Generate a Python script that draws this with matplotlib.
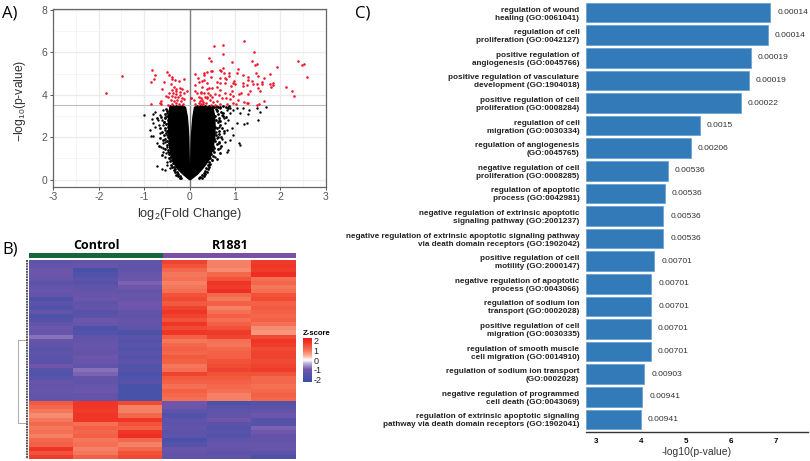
import numpy as np
import matplotlib
matplotlib.use("Agg")
import matplotlib.pyplot as plt
from matplotlib.colors import LinearSegmentedColormap

plt.rcParams["font.family"] = ["Liberation Sans", "DejaVu Sans"]
plt.rcParams["mathtext.default"] = "regular"
plt.rcParams["axes.unicode_minus"] = False

W, H = 810, 461

# === volcano data ===
red_x = [.55,.73,1.21,.73,1.42,.44,.47,.94,1.37,1.48,1.45,1.92,2.40,2.52,2.49,2.60,2.13,2.27,2.31,
         .73,.70,.67,.50,.47,.38,.31,1.06,.75,.88,1.04,1.19,1.47,1.52,1.77,1.30,1.64,.27,.47,.67,.78,.81,.88,.99,1.0,.95,.91,
         1.19,1.17,1.28,1.27,1.38,1.39,1.49,1.59,1.60,1.50,1.77,1.85,1.85,1.79,1.55,1.64,1.53,1.48,1.33,1.29,1.13,1.09,.94,
         1.08,1.2,1.29,.97,.89,.79,.67,.61,.67,.78,.6,.27,.38,.49,.32,.41,.49,.56,.65,.71,.80,.89,.97,.25,.34,.26,.39,.45,.29,
         .36,.52,.61,.67,.82,1.03,.25,.47,.56,1.27,
         .12,.18,.13,.22,.12,.16,.04,.1,.2,.27,.26,.31,.32,.22,.12,.23,.29,.38,.42,.45,.38,
         -1.84,-1.49,-.82,-.77,-.79,-.84,-.56,-.49,-.45,-.39,-.39,-.32,-.23,-.12,-.41,-.61,-.35,-.30,-.22,-.17,-.06,-.30,-.22,
         -.13,-.39,-.45,-.36,-.30,-.21,-.52,-.48,-.39,-.32,-.25,-.17,-.41,-.34,-.27,-.19,-.12,-.63,-.66,-.62,-.86,-.39,-.30,
         -.23,-.15,-.47,.03]
red_y = [6.32,6.34,6.54,5.93,6.02,5.76,5.60,5.53,5.62,5.47,5.42,5.32,5.62,5.46,5.40,4.84,4.39,4.19,3.93,
         5.27,5.14,5.18,5.14,5.13,5.06,5.05,5.22,5.02,5.05,5.02,4.94,5.05,4.89,5.0,4.84,4.78,4.66,4.84,4.81,4.81,4.73,4.91,4.67,4.5,4.56,4.44,
         4.54,4.44,4.7,4.47,4.67,4.5,4.51,4.62,4.5,4.34,4.5,4.58,4.47,4.39,4.17,3.71,3.57,3.52,4.2,4.04,4.07,4.03,4.18,
         3.76,3.68,3.6,3.93,4.03,4.07,4.23,4.35,4.54,4.57,4.6,4.39,4.28,4.31,4.07,4.07,3.92,4.03,4.0,3.84,3.84,3.81,3.63,4.15,3.92,3.84,3.84,3.76,3.68,
         3.63,3.68,3.73,3.57,3.57,3.57,3.57,3.52,3.52,3.62,
         4.98,4.78,4.46,4.62,4.2,4.07,3.84,3.76,3.88,3.76,4.07,4.94,4.7,3.6,3.57,3.73,3.57,4.54,4.31,4.0,3.88,
         4.07,4.91,5.17,4.92,4.73,4.61,4.6,5.08,4.94,4.84,4.75,4.72,4.67,4.77,4.53,4.28,4.35,4.29,4.31,4.29,4.17,4.18,4.15,
         4.07,4.23,4.07,4.07,4.04,4.0,3.93,3.88,3.95,3.88,3.92,3.87,3.76,3.73,3.76,3.73,3.79,3.73,3.63,3.57,3.55,3.57,3.6,
         3.57,3.57,3.52,3.84]
black_x = [-1.0,-.8,-.76,-.83,-.8,-.76,-.87,-.86,-.81,-.71,-.62,-.58,-.54,-.5,-.71,-.6,-.55,-.44,-.65,-.61,-.58,-.54,-.5,-.54,
           -.5,-.47,-.44,-.69,-.67,-.64,-.58,-.58,-.5,-.54,-.48,-.59,-.51,-.49,
           1.5,1.26,1.21,1.3,1.68,1.55,1.48,1.32,1.11,1.04,1.1,1.11,.85,.82,.78,.89,.96,.93,.82,.75,.71,.67,.56,.64,.66,.78,.85,
           .89,.96,.82,.71,.64,.75,.61,.67,.58,.61,.52,.49,.42,.46,.89,1.04,1.19]
black_y = [3.07,3.12,3.2,2.85,2.66,2.5,2.34,2.06,2.06,1.75,1.56,1.32,1.09,.85,.66,.49,.46,.54,3.05,2.81,2.58,2.34,2.1,1.79,
           1.56,1.32,1.0,2.81,2.58,2.19,1.71,3.29,3.13,2.97,2.66,1.48,1.24,.69,
           2.81,2.66,2.61,3.1,3.41,3.21,3.37,3.3,3.16,2.66,1.75,1.64,1.4,1.32,1.79,1.87,2.1,2.42,2.34,2.19,1.9,1.48,1.06,1.71,2.5,2.66,2.81,
           3.13,3.29,3.29,3.05,2.81,2.9,3.29,3.37,2.27,1.97,1.4,.93,.69,1.24,3.37,3.37,3.37]
# ragged fringe of the cloud, left lobe then right lobe then the top edge
fringe_x = [-.52,-.49,-.55,-.5,-.53,-.48,-.56,-.51,-.47,-.54,-.5,-.52,-.57,-.48,-.53,-.49,-.46,-.5,-.44,-.47,-.43,-.46,-.41,-.45,-.39,-.42,-.37,-.4,-.34,-.38,-.31,-.35,-.28,-.32,-.25,-.29,-.22,-.26,-.18,-.22,
            -.62,-.56,-.66,-.6,-.72,-.64,-.59,-.68,-.53,-.6,
            .58,.6,.62,.57,.65,.59,.63,.68,.56,.61,.66,.54,.59,.63,.53,.57,.6,.52,.55,.49,.53,.47,.51,.45,.49,.43,.46,.4,.44,.37,.41,.34,.38,.31,.35,.27,.31,.24,.27,.2,
            .7,.74,.68,.72,.77,.66,.7,.8,.65,.69,.62,.67,.73,.84,.6,
            -.44,-.4,-.37,-.33,-.3,-.26,-.23,-.19,-.16,-.13,.13,.16,.2,.23,.27,.31,.34,.38,.42,.46,.5,.54,.58,.63,.68,.74,.8,.87]
fringe_y = [3.32,3.22,3.12,3.02,2.9,2.8,2.72,2.62,2.5,2.42,2.32,2.2,2.1,2.02,1.9,1.82,1.72,1.62,1.52,1.42,1.32,1.22,1.12,1.02,.92,.86,.78,.7,.62,.58,.5,.44,.38,.34,.28,.24,.18,.16,.1,.08,
            2.95,2.7,2.45,2.25,2.9,1.95,1.85,1.6,1.45,1.15,
            3.32,3.22,3.1,3.0,2.92,2.82,2.72,2.6,2.5,2.42,2.32,2.2,2.12,2.02,1.9,1.82,1.7,1.6,1.5,1.42,1.3,1.22,1.1,1.02,.92,.85,.76,.7,.62,.56,.5,.43,.38,.32,.27,.22,.18,.13,.1,.06,
            3.2,3.0,2.75,2.45,2.3,2.15,2.0,2.95,1.8,1.6,1.45,1.25,3.15,3.4,.98,
            3.46,3.42,3.47,3.44,3.48,3.43,3.46,3.41,3.47,3.44,3.44,3.47,3.42,3.46,3.48,3.43,3.47,3.44,3.48,3.42,3.46,3.43,3.47,3.44,3.41,3.46,3.43,3.47]
# dense body of the cloud: outer and inner edge of each lobe per height
body_y = [0, .25, .5, .75, 1, 1.5, 2, 2.5, 3, 3.45]
body_left = [-.02, -.16, -.28, -.36, -.41, -.46, -.48, -.49, -.49, -.46]
body_left_in = [0, 0, 0, 0, -.002, -.006, -.012, -.025, -.045, -.085]
body_right = [.02, .17, .28, .37, .45, .52, .56, .57, .56, .52]
body_right_in = [0, 0, 0, 0, .002, .007, .015, .03, .05, .085]

# === heatmap data (z-score per row, top to bottom) ===
ctrl1 = [-1.4,-1.3,-1.1,-1.1,-1.2,-1.5,-1.3,-1.2,-1.3,-1.8,-1.5,-1.7,-1.3,-1.8,-1.6,-1.4,-1.1,-1.2,-.8,-1.3,-1.4,-1.5,-1.4,-1.5,-1.5,-1.0,-1.6,-1.7,-1.5,-1.2,-1.3,-1.2,-1.3,-1.4,
         1.4,1.2,1.0,.8,1.0,1.2,1.0,1.1,.9,1.2,1.3,1.9,1.5,1.8]
ctrl2 = [-1.3,-1.2,-1.9,-1.7,-1.5,-1.6,-1.4,-1.3,-1.2,-1.1,-1.4,-1.3,-1.6,-1.5,-1.1,-1.2,-1.8,-1.7,-1.4,-1.3,-1.2,-1.2,-1.3,-1.1,-1.2,-1.4,-.8,-.9,-1.3,-1.4,-1.2,-1.1,-1.3,-1.3,
         1.9,1.9,1.8,1.9,1.9,1.1,1.3,1.2,1.3,1.0,1.1,.9,1.0,1.3]
ctrl3 = [-1.3,-1.4,-1.4,-1.2,-1.1,-.9,-1.0,-1.3,-1.2,-1.2,-1.0,-1.1,-1.3,-1.4,-1.3,-1.3,-1.4,-1.8,-1.5,-1.6,-1.5,-1.7,-1.5,-1.6,-1.5,-1.7,-1.6,-1.8,-1.7,-1.6,-1.9,-1.9,-1.9,-1.9,
         1.6,.9,.9,1.2,1.9,1.5,1.3,1.9,2.0,1.2,.9,1.2,1.5,1.6]
r1 = [1.7,1.5,1.2,1.0,1.1,.9,1.0,1.1,1.5,1.6,1.4,1.7,1.9,1.7,1.5,1.9,1.6,1.9,1.3,1.0,1.2,1.3,1.2,1.4,1.3,1.0,1.1,1.7,1.4,1.3,1.1,1.3,1.2,1.1,
      -1.0,-1.1,-1.4,-1.7,-1.4,-1.5,-1.3,-1.5,-1.4,-1.9,-1.6,-1.2,-1.3,-1.4]
r2 = [.9,.9,.8,1.2,1.5,1.9,1.8,2.0,1.2,1.0,1.3,.9,1.1,1.3,1.1,1.3,1.5,1.8,1.7,1.1,1.0,1.2,1.3,1.3,1.5,1.6,1.7,1.5,1.4,1.3,1.2,1.1,.9,.9,
      -1.8,-1.5,-1.4,-1.3,-1.0,-1.5,-1.6,-1.5,-1.7,-1.4,-1.2,-1.3,-1.5,-1.4]
r3 = [1.8,1.9,1.8,2.0,1.1,1.2,1.0,1.1,1.5,1.6,1.3,1.4,1.3,1.2,1.3,1.1,.8,.7,1.6,1.9,1.8,1.6,1.7,1.7,1.6,1.7,1.8,1.5,1.2,1.2,1.1,1.2,1.3,1.2,
      -1.6,-1.5,-1.3,-1.1,-1.6,-1.6,-.9,-1.0,-1.3,-1.3,-1.2,-1.2,-1.5,-1.8]

# === enrichment bars ===
go_terms = ["regulation of wound\nhealing (GO:0061041)",
            "regulation of cell\nproliferation (GO:0042127)",
            "positive regulation of\nangiogenesis (GO:0045766)",
            "positive regulation of vasculature\ndevelopment (GO:1904018)",
            "positive regulation of cell\nproliferation (GO:0008284)",
            "regulation of cell\nmigration (GO:0030334)",
            "regulation of angiogenesis\n(GO:0045765)",
            "negative regulation of cell\nproliferation (GO:0008285)",
            "regulation of apoptotic\nprocess (GO:0042981)",
            "negative regulation of extrinsic apoptotic\nsignaling pathway (GO:2001237)",
            "negative regulation of extrinsic apoptotic signaling pathway\nvia death domain receptors (GO:1902042)",
            "positive regulation of cell\nmotility (GO:2000147)",
            "negative regulation of apoptotic\nprocess (GO:0043066)",
            "regulation of sodium ion\ntransport (GO:0002028)",
            "positive regulation of cell\nmigration (GO:0030335)",
            "regulation of smooth muscle\ncell migration (GO:0014910)",
            "regulation of sodium ion transport\n(GO:0002028)",
            "negative regulation of programmed\ncell death (GO:0043069)",
            "regulation of extrinsic apoptotic signaling\npathway via death domain receptors (GO:1902041)"]
log_p = [6.88,6.82,6.44,6.40,6.22,5.32,5.11,4.60,4.53,4.50,4.50,4.30,4.24,4.24,4.22,4.22,4.08,4.04,4.01]
p_labels = ["0.00014","0.00014","0.00019","0.00019","0.00022","0.0015","0.00206","0.00536","0.00536","0.00536",
            "0.00536","0.00701","0.00701","0.00701","0.00701","0.00701","0.00903","0.00941","0.00941"]


def px_axes(left, top, right, bottom):
    return fig.add_axes([left / W, 1 - bottom / H, (right - left) / W, (bottom - top) / H])


fig = plt.figure(figsize=(W / 100, H / 100), dpi=100)

# === A) volcano ===
ax = px_axes(53, 9, 326, 186.7)
ax.set_xlim(-3.01, 3.01)
ax.set_ylim(-0.33, 8.05)
ax.set_xticks(range(-3, 4))
ax.set_yticks([0, 2, 4, 6, 8])
ax.set_xticks(np.arange(-2.5, 3, 1), minor=True)
ax.set_yticks([1, 3, 5, 7], minor=True)
ax.grid(True, which="major", color="#ebebeb", lw=0.9)
ax.grid(True, which="minor", color="#f2f2f2", lw=0.5)
ax.tick_params(which="minor", length=0)
ax.tick_params(which="major", length=2.5, width=0.7, color="#555555", labelcolor="#555555", labelsize=7.5, pad=1.5)
ax.set_axisbelow(True)
ax.axvline(0, color="#808080", lw=1.0, zorder=1.5)
ax.axhline(3.5, color="#bdbdbd", lw=0.8, zorder=1.5)
ax.fill_betweenx(body_y, body_left, body_left_in, color="black", lw=0, zorder=2)
ax.fill_betweenx(body_y, body_right_in, body_right, color="black", lw=0, zorder=2)
ax.scatter(black_x, black_y, s=3, c="black", marker="o", linewidths=0, zorder=3)
ax.scatter(fringe_x, fringe_y, s=4, c="black", marker="o", linewidths=0, zorder=3)
ax.scatter(red_x, red_y, s=3.5, c="#f2182c", marker="o", linewidths=0, zorder=3)
for s in ax.spines.values():
    s.set_color("#666666")
    s.set_linewidth(0.9)
ax.set_xlabel("log$_2$(Fold Change)", fontsize=9.2, color="#333333", labelpad=2.5)
ax.set_ylabel("$-$log$_{10}$(p-value)", fontsize=8.7, color="#333333", labelpad=2)
ax.yaxis.set_label_coords(-0.092, 0.485)

# === B) heatmap ===
cmap = LinearSegmentedColormap.from_list("zscore", [
    (0, "#3a50a6"), (0.065, "#4252a8"), (0.174, "#5c53aa"), (0.283, "#7057ac"), (0.42, "#bdb0d8"), (0.5, "#ffffff"),
    (0.6, "#fbb09a"), (0.72, "#f5765a"), (0.82, "#f2553a"), (0.92, "#ef3325"), (1, "#ee1f25")])
hm = px_axes(29, 260, 296, 459)
matrix = np.array([ctrl1, ctrl2, ctrl3, r1, r2, r3]).T
hm.imshow(matrix, aspect="auto", cmap=cmap, vmin=-2.3, vmax=2.3, interpolation="nearest")
hm.axis("off")

band = px_axes(29, 253, 296, 258)
band.set_xlim(0, 2)
band.set_ylim(0, 1)
band.barh(0.5, 1, left=0, height=1, color="#18673a")
band.barh(0.5, 1, left=1, height=1, color="#7b4fa3")
band.axis("off")
fig.text(96 / W, 1 - 245 / H, "Control", ha="center", va="center", fontsize=9, fontweight="bold", family="Open Sans")
fig.text(230 / W, 1 - 245 / H, "R1881", ha="center", va="center", fontsize=9, fontweight="bold", family="Open Sans")

# dendrogram
den = px_axes(0, 0, W, H)
den.set_xlim(0, W)
den.set_ylim(H, 0)
den.axis("off")
den.patch.set_alpha(0)
den.plot([27, 17.5, 17.5, 27], [339.5, 339.5, 422.5, 422.5], color="#aaaaaa", lw=0.7)
den.plot([26.8, 26.8], [260, 459], color="#555555", lw=1.4, ls=(0, (1.0, 0.4)))

# colour key
cb = px_axes(302.7, 338, 311.7, 382)
cb.imshow(np.linspace(2.3, -2.3, 60)[:, None], aspect="auto", cmap=cmap, vmin=-2.3, vmax=2.3,
          extent=[0, 1, -2.3, 2.3])
cb.set_xticks([])
cb.set_yticks([-2, -1, 0, 1, 2])
cb.set_yticklabels(["-2", "-1", "0", "1", "2"])
cb.yaxis.tick_right()
cb.tick_params(axis="y", length=0, labelsize=6.5, pad=1.5, labelcolor="#222222")
for s in cb.spines.values():
    s.set_visible(False)
fig.text(303 / W, 1 - 333 / H, "Z-score", ha="left", va="center", fontsize=5.6, fontweight="bold")

# === C) enrichment bars ===
bx = px_axes(585.7, 0, 807.7, 432)
ypos = np.arange(len(log_p))
bx.barh(ypos, np.array(log_p) - 2.78, left=2.78, height=0.87, color="#337ab8", edgecolor="#6aa3d6", linewidth=0.6)
bx.set_xlim(2.78, 7.71)
bx.set_ylim(18.56, -0.56)
bx.set_yticks(ypos)
bx.set_yticklabels(go_terms, fontsize=5.85, fontweight="bold", color="#222222", linespacing=1.2)
bx.set_xticks([3, 4, 5, 6, 7])
bx.tick_params(axis="y", length=0, pad=4.5)
bx.tick_params(axis="x", length=0, labelsize=5.8, pad=4.5)
for lab in bx.get_xticklabels():
    lab.set_fontweight("bold")
for v, y, txt in zip(log_p, ypos, p_labels):
    bx.text(v + 0.155, y, txt, va="center", ha="left", fontsize=6.1, color="#333333")
for name in ["top", "left", "right"]:
    bx.spines[name].set_visible(False)
bx.spines["bottom"].set_color("#333333")
bx.spines["bottom"].set_linewidth(1.0)
fig.text(697 / W, 1 - 451.5 / H, "-log10(p-value)", ha="center", va="center", fontsize=7.5, color="#333333")

# panel letters
for letter, xp, yp in [("A)", 2, 13), ("B)", 2, 249), ("C)", 355, 13)]:
    fig.text(xp / W, 1 - yp / H, letter, ha="left", va="center", fontsize=12, family="Open Sans")

fig.savefig("out.png", dpi=100)
